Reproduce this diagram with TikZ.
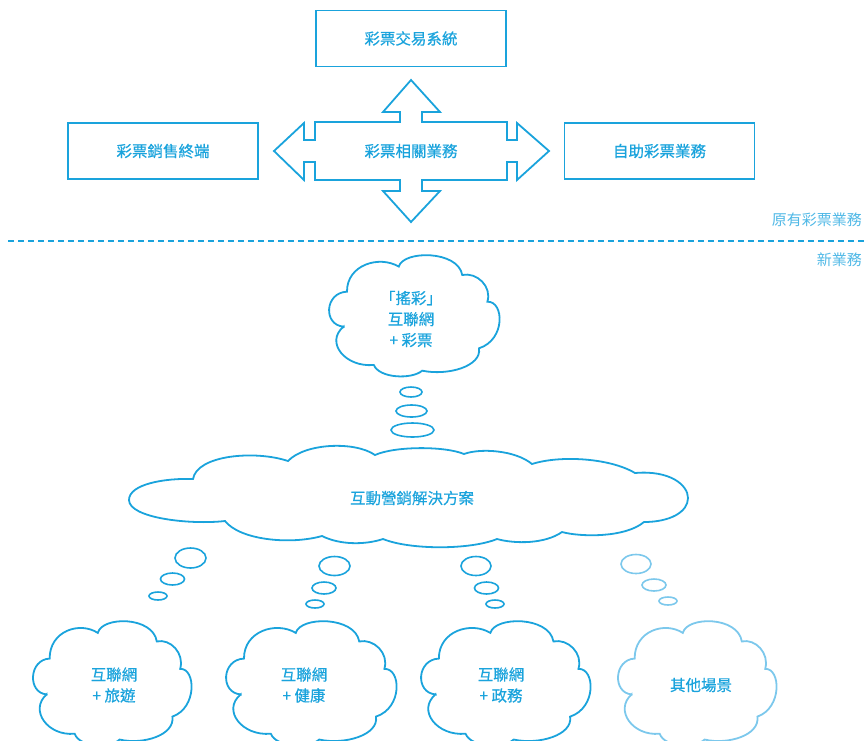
\documentclass[tikz,border=0pt]{standalone}
\usepackage{fontspec}
\setmainfont{Noto Sans CJK TC}
\newfontfamily\medfont{Noto Sans CJK TC}[FakeBold=0.6]
\usetikzlibrary{shapes.geometric}
\definecolor{mainblue}{HTML}{1AA3DC}
\definecolor{lightblue}{HTML}{7CC8EC}
\definecolor{labelblue}{HTML}{4FB8E6}
\newcommand\mycloud[5]{%
  \begin{scope}[shift={(#1,#2)},xscale=#3,yscale=#4]
  \draw[#5] (0.092,0.592)
    .. controls (-0.03,0.58) and (-0.02,0.31) .. (0.111,0.303)
    .. controls (0.11,0.08) and (0.30,0.0) .. (0.414,0.096)
    .. controls (0.44,-0.04) and (0.76,-0.04) .. (0.785,0.165)
    .. controls (0.87,0.14) and (0.96,0.26) .. (0.932,0.386)
    .. controls (1.03,0.38) and (1.04,0.70) .. (0.883,0.771)
    .. controls (0.90,0.92) and (0.70,1.0) .. (0.551,0.956)
    .. controls (0.49,1.03) and (0.30,1.02) .. (0.268,0.909)
    .. controls (0.10,0.93) and (-0.02,0.72) .. cycle;
  \end{scope}}
\begin{document}
\begin{tikzpicture}[x=1pt,y=-1pt,
  txt/.style={text=mainblue,font=\medfont\fontsize{15.5}{21}\selectfont,align=center,inner sep=0pt},
  box/.style={draw=mainblue,line width=1.8pt,minimum width=190pt,minimum height=56pt,txt},
  cloudline/.style={draw=mainblue,line width=1.8pt,line join=miter},
  bub/.style={ellipse,draw=mainblue,line width=1.6pt,inner sep=0pt},
  lbl/.style={text=labelblue,font=\fontsize{15}{16}\selectfont,anchor=east,inner sep=0pt}]
\useasboundingbox (0,0) rectangle (865,740);
% boxes
\node[box] (sys) at (411,38.5) {彩票交易系統};
\node[box] (term) at (163,151) {彩票銷售終端};
\node[box] (self) at (659.5,151) {自助彩票業務};
% four-way arrow
\draw[mainblue,line width=1.8pt,line join=miter]
  (274,151) -- (304,123) -- (304,140) -- (315,140) -- (315,122) -- (400,122) -- (400,112) -- (383,112)
  -- (411,80) -- (440,112) -- (422,112) -- (422,122) -- (507,122) -- (507,140) -- (517,140) -- (517,123)
  -- (549,151) -- (517,180) -- (517,162) -- (507,162) -- (507,180) -- (422,180) -- (422,191) -- (440,191)
  -- (411,222) -- (383,191) -- (400,191) -- (400,180) -- (315,180) -- (315,162) -- (304,162) -- (304,180) -- cycle;
\node[txt] (rel) at (411,151) {彩票相關業務};
% divider
\coordinate (dl) at (8,241);
\coordinate (dr) at (865,241);
\draw[mainblue,line width=1.6pt,dash pattern=on 6pt off 4pt] (dl) -- (dr);
\node[lbl] (old) at (862,220) {原有彩票業務};
\node[lbl] (new) at (862,260) {新業務};
% top cloud
\mycloud{328}{255}{171}{121}{cloudline}
\node[txt] (c1) at (411,319) {「搖彩」\\互聯網\\+ 彩票};
\node[bub,minimum width=22pt,minimum height=10pt] (t1) at (411,392) {};
\node[bub,minimum width=31pt,minimum height=12pt] (t2) at (411.5,411) {};
\node[bub,minimum width=43pt,minimum height=14pt] (t3) at (412.5,430) {};
% big cloud
\draw[cloudline] (193,479)
  .. controls (197,455) and (255,450) .. (288,461)
  .. controls (305,443) and (355,441) .. (375,455)
  .. controls (395,446) and (445,446) .. (464,454)
  .. controls (480,448) and (515,450) .. (532,464)
  .. controls (560,455) and (610,458) .. (635,473)
  .. controls (670,470) and (688,485) .. (688,498)
  .. controls (688,512) and (670,522) .. (644,522)
  .. controls (625,538) and (580,537) .. (562,532)
  .. controls (545,544) and (515,544) .. (497,539)
  .. controls (470,550) and (410,550) .. (383,539)
  .. controls (365,545) and (340,545) .. (322,536)
  .. controls (290,545) and (240,540) .. (225,521)
  .. controls (190,525) and (129,518) .. (129,500)
  .. controls (129,484) and (165,478) .. cycle;
\node[txt] (c2) at (412,498) {互動營銷解決方案};
% bubbles for bottom clouds
\node[bub,minimum width=31pt,minimum height=20pt] (a1) at (190.5,558) {};
\node[bub,minimum width=24pt,minimum height=12pt] (a2) at (172.5,579) {};
\node[bub,minimum width=18pt,minimum height=8pt] (a3) at (158,596) {};
\node[bub,minimum width=31pt,minimum height=19pt] (b1) at (334.5,566) {};
\node[bub,minimum width=24pt,minimum height=12pt] (b2) at (324,588) {};
\node[bub,minimum width=18pt,minimum height=8pt] (b3) at (315,604) {};
\node[bub,minimum width=30pt,minimum height=19pt] (e1) at (476,566) {};
\node[bub,minimum width=24pt,minimum height=12pt] (e2) at (486.5,588) {};
\node[bub,minimum width=18pt,minimum height=8pt] (e3) at (495,604) {};
\node[bub,draw=lightblue,minimum width=30pt,minimum height=19pt] (d1) at (636,564) {};
\node[bub,draw=lightblue,minimum width=24pt,minimum height=12pt] (d2) at (654,585) {};
\node[bub,draw=lightblue,minimum width=18pt,minimum height=8pt] (d3) at (668,601) {};
% bottom clouds
\mycloud{32}{621}{159}{124}{cloudline}
\mycloud{225}{621}{171}{124}{cloudline}
\mycloud{420}{621}{170}{124}{cloudline}
\mycloud{617}{621}{159}{124}{cloudline,draw=lightblue}
\node[txt] (ca) at (114,685) {互聯網\\+ 旅遊};
\node[txt] (cb) at (304,685) {互聯網\\+ 健康};
\node[txt] (cc) at (501,685) {互聯網\\+ 政務};
\node[txt] (cd) at (701,685) {其他場景};
\end{tikzpicture}
\end{document}
